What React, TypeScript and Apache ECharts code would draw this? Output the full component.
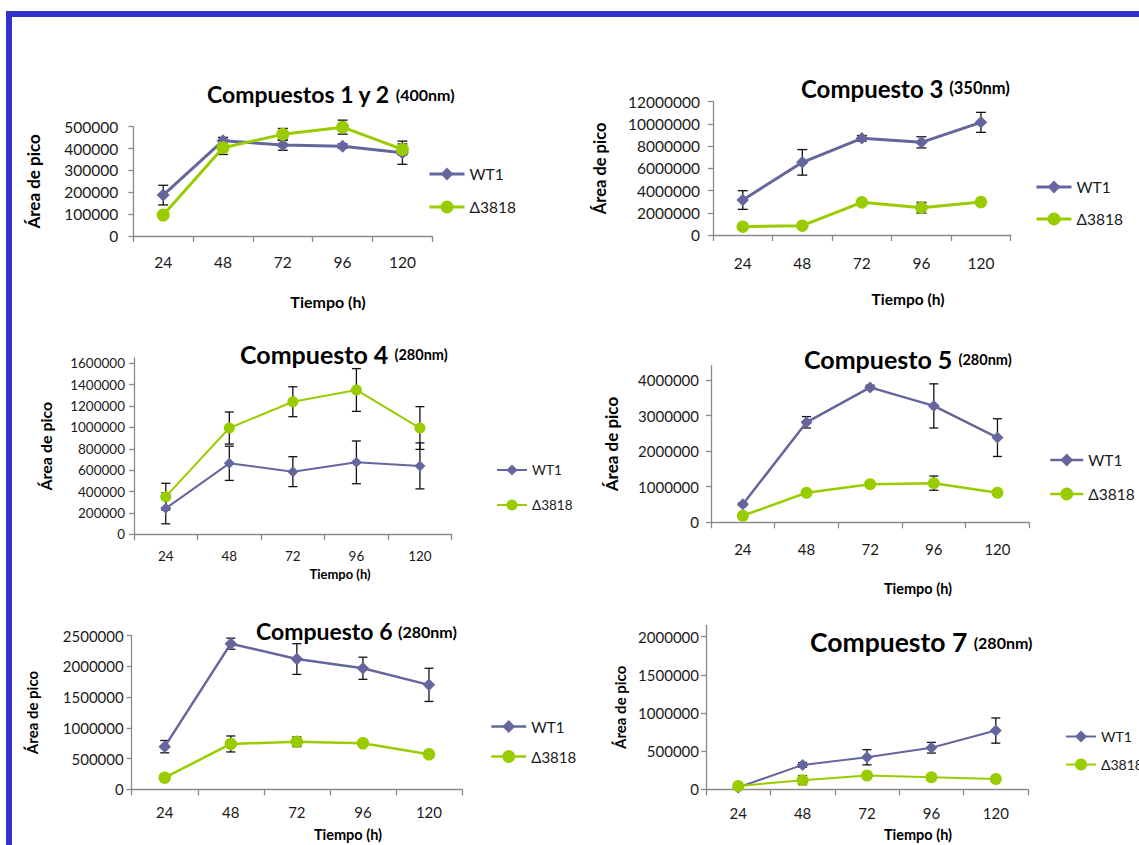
import React, { useEffect, useRef } from 'react';
import * as echarts from 'echarts';

// Sampling times (hours)
const HOURS = ['24', '48', '72', '96', '120'];
const WT_NAME = 'WT1';
const DEL_NAME = 'Δ3818';
const WT_COLOR = '#66669e';
const DEL_COLOR = '#99cc00';
const FONT = 'Lato, "Noto Sans", sans-serif';

// Compuestos 1 y 2 (400 nm)
const c12Wt = [187000, 436000, 416000, 411000, 381000];
const c12WtSd = [45000, 15000, 24000, 10000, 53000];
const c12Del = [96000, 404000, 465000, 498000, 396000];
const c12DelSd = [8000, 31000, 27000, 32000, 25000];
const c12Ticks = [0, 100000, 200000, 300000, 400000, 500000];

// Compuesto 3 (350 nm)
const c3Wt = [3150000, 6540000, 8700000, 8340000, 10140000];
const c3WtSd = [840000, 1150000, 250000, 500000, 900000];
const c3Del = [750000, 840000, 2940000, 2460000, 2970000];
const c3DelSd = [120000, 100000, 150000, 480000, 150000];
const c3Ticks = [0, 2000000, 4000000, 6000000, 8000000, 10000000, 12000000];

// Compuesto 4 (280 nm)
const c4Wt = [243000, 664000, 586000, 673000, 640000];
const c4WtSd = [145000, 160000, 140000, 200000, 215000];
const c4Del = [352000, 994000, 1240000, 1350000, 994000];
const c4DelSd = [125000, 150000, 140000, 200000, 200000];
const c4Ticks = [0, 200000, 400000, 600000, 800000, 1000000, 1200000, 1400000, 1600000];

// Compuesto 5 (280 nm)
const c5Wt = [505000, 2810000, 3790000, 3270000, 2380000];
const c5WtSd = [40000, 160000, 60000, 620000, 530000];
const c5Del = [186000, 830000, 1070000, 1100000, 830000];
const c5DelSd = [20000, 40000, 60000, 200000, 40000];
const c5Ticks = [0, 1000000, 2000000, 3000000, 4000000];

// Compuesto 6 (280 nm)
const c6Wt = [694000, 2370000, 2120000, 1970000, 1700000];
const c6WtSd = [100000, 90000, 250000, 180000, 270000];
const c6Del = [190000, 738000, 775000, 750000, 570000];
const c6DelSd = [20000, 130000, 80000, 30000, 30000];
const c6Ticks = [0, 500000, 1000000, 1500000, 2000000, 2500000];

// Compuesto 7 (280 nm)
const c7Wt = [25000, 320000, 420000, 545000, 770000];
const c7WtSd = [10000, 30000, 100000, 70000, 165000];
const c7Del = [43000, 120000, 180000, 157000, 135000];
const c7DelSd = [5000, 60000, 20000, 40000, 10000];
const c7Ticks = [0, 500000, 1000000, 1500000, 2000000];

type Panel = {
  title: string; nm: string;
  wt: number[]; wtSd: number[]; del: number[]; delSd: number[];
  ticks: number[]; yMax: number;
  grid: [number, number, number, number];
  titleLeft: number; titleCy: number; titleSize: number; nmSize: number;
  numSize: number; yLabelMargin: number; xLabelCy: number;
  xNameCx: number; xNameCy: number; xNameSize: number;
  yNameCx: number; yNameSize: number;
  legendLeft: number; legendTop: number; legendW: number; legendH: number; legendGap: number; legendSize: number;
  lineWidth: number; symbolSize: number; capW: number;
};

const panels: Panel[] = [
  {
    title: 'Compuestos 1 y 2', nm: '(400nm)', wt: c12Wt, wtSd: c12WtSd, del: c12Del, delSd: c12DelSd,
    ticks: c12Ticks, yMax: 500000, grid: [133.3, 126.7, 299, 109.3],
    titleLeft: 207, titleCy: 94, titleSize: 23, nmSize: 16,
    numSize: 15.5, yLabelMargin: 15, xLabelCy: 262,
    xNameCx: 328, xNameCy: 301, xNameSize: 16, yNameCx: 33, yNameSize: 17,
    legendLeft: 428, legendTop: 166, legendW: 35, legendH: 16, legendGap: 17, legendSize: 15.5,
    lineWidth: 3, symbolSize: 13, capW: 10,
  },
  {
    title: 'Compuesto 3', nm: '(350nm)', wt: c3Wt, wtSd: c3WtSd, del: c3Del, delSd: c3DelSd,
    ticks: c3Ticks, yMax: 12000000, grid: [713, 101.7, 297.7, 133.3],
    titleLeft: 801, titleCy: 88, titleSize: 24, nmSize: 16.5,
    numSize: 15.5, yLabelMargin: 13, xLabelCy: 263,
    xNameCx: 908, xNameCy: 299, xNameSize: 15.5, yNameCx: 600, yNameSize: 16.5,
    legendLeft: 1035, legendTop: 179, legendW: 35, legendH: 16, legendGap: 16, legendSize: 15.5,
    lineWidth: 3, symbolSize: 12.5, capW: 10,
  },
  {
    title: 'Compuesto 4', nm: '(280nm)', wt: c4Wt, wtSd: c4WtSd, del: c4Del, delSd: c4DelSd,
    ticks: c4Ticks, yMax: 1650000, grid: [134, 357.9, 317.7, 176.4],
    titleLeft: 240, titleCy: 354, titleSize: 25, nmSize: 14.5,
    numSize: 13.5, yLabelMargin: 9, xLabelCy: 556,
    xNameCx: 340, xNameCy: 574, xNameSize: 13, yNameCx: 45, yNameSize: 16,
    legendLeft: 496, legendTop: 463, legendW: 30, legendH: 14, legendGap: 21, legendSize: 13.5,
    lineWidth: 2, symbolSize: 11, capW: 9,
  },
  {
    title: 'Compuesto 5', nm: '(280nm)', wt: c5Wt, wtSd: c5WtSd, del: c5Del, delSd: c5DelSd,
    ticks: c5Ticks, yMax: 4400000, grid: [711, 365.7, 318.3, 156.6],
    titleLeft: 804, titleCy: 359, titleSize: 25, nmSize: 14.5,
    numSize: 15, yLabelMargin: 12, xLabelCy: 549,
    xNameCx: 918, xNameCy: 588, xNameSize: 14.5, yNameCx: 611, yNameSize: 17,
    legendLeft: 1049, legendTop: 452, legendW: 33, legendH: 16, legendGap: 18, legendSize: 15.5,
    lineWidth: 2.5, symbolSize: 12, capW: 9,
  },
  {
    title: 'Compuesto 6', nm: '(280nm)', wt: c6Wt, wtSd: c6WtSd, del: c6Del, delSd: c6DelSd,
    ticks: c6Ticks, yMax: 2500000, grid: [131.7, 635.7, 330.3, 153.6],
    titleLeft: 256, titleCy: 631, titleSize: 23, nmSize: 16,
    numSize: 15, yLabelMargin: 8, xLabelCy: 812,
    xNameCx: 348, xNameCy: 834, xNameSize: 14.5, yNameCx: 32, yNameSize: 15,
    legendLeft: 490, legendTop: 719, legendW: 35, legendH: 16, legendGap: 15, legendSize: 15,
    lineWidth: 2.5, symbolSize: 12.5, capW: 9,
  },
  {
    title: 'Compuesto 7', nm: '(280nm)', wt: c7Wt, wtSd: c7WtSd, del: c7Del, delSd: c7DelSd,
    ticks: c7Ticks, yMax: 2150000, grid: [706, 625.3, 322, 164],
    titleLeft: 810, titleCy: 642, titleSize: 26.5, nmSize: 16,
    numSize: 15, yLabelMargin: 7, xLabelCy: 813,
    xNameCx: 918, xNameCy: 834, xNameSize: 14.5, yNameCx: 620, yNameSize: 15,
    legendLeft: 1065, legendTop: 729.5, legendW: 30, legendH: 15, legendGap: 14, legendSize: 14,
    lineWidth: 2, symbolSize: 12, capW: 9,
  },
];

const AXIS_COLOR = '#8a8a8a';
const TEXT_COLOR = '#1a1a1a';

function errorBarSeries(idx: number, values: number[], sds: number[], capW: number) {
  return {
    type: 'custom',
    xAxisIndex: idx,
    yAxisIndex: idx,
    z: 2,
    silent: true,
    encode: { x: 0, y: [1, 2] },
    data: values.map((v, i) => [i, v - sds[i], v + sds[i]]),
    renderItem: (params: any, api: any) => {
      const x = api.value(0);
      const lo = api.coord([x, api.value(1)]);
      const hi = api.coord([x, api.value(2)]);
      const h = capW / 2;
      const style = { stroke: '#111', lineWidth: 1.3 };
      return {
        type: 'group',
        children: [
          { type: 'line', shape: { x1: lo[0], y1: lo[1], x2: hi[0], y2: hi[1] }, style },
          { type: 'line', shape: { x1: lo[0] - h, y1: lo[1], x2: lo[0] + h, y2: lo[1] }, style },
          { type: 'line', shape: { x1: hi[0] - h, y1: hi[1], x2: hi[0] + h, y2: hi[1] }, style },
        ],
      };
    },
  };
}

function buildOption() {
  const grid: any[] = [];
  const xAxis: any[] = [];
  const yAxis: any[] = [];
  const series: any[] = [];
  const title: any[] = [];
  const legend: any[] = [];

  panels.forEach((p, i) => {
    const [left, top, width, height] = p.grid;
    const bottom = top + height;
    grid.push({ left, top, width, height, containLabel: false, outerBoundsMode: 'none' });

    const nameOffset = p.xNameCx - (left + width / 2);
    xAxis.push({
      type: 'category',
      gridIndex: i,
      data: HOURS,
      boundaryGap: true,
      axisLine: { show: true, lineStyle: { color: AXIS_COLOR, width: 1.3 } },
      axisTick: { show: true, interval: 0, length: 6, lineStyle: { color: AXIS_COLOR, width: 1.3 } },
      axisLabel: {
        interval: 0,
        fontSize: p.numSize,
        fontFamily: FONT,
        color: TEXT_COLOR,
        margin: p.xLabelCy - bottom - p.numSize / 2,
      },
      splitLine: { show: false },
      name: 'Tiempo (h)',
      nameLocation: 'middle',
      nameGap: p.xNameCy - bottom - p.xNameSize / 2,
      nameTextStyle: {
        fontSize: p.xNameSize,
        fontWeight: 'bold',
        fontFamily: FONT,
        color: '#000',
        padding: [0, 0, 0, nameOffset * 2],
      },
    });

    yAxis.push({
      type: 'value',
      gridIndex: i,
      min: 0,
      max: p.yMax,
      axisLine: { show: true, lineStyle: { color: AXIS_COLOR, width: 1.3 } },
      axisTick: { show: true, length: 5, customValues: p.ticks, lineStyle: { color: AXIS_COLOR, width: 1.3 } },
      axisLabel: {
        customValues: p.ticks,
        formatter: (v: number) => String(v),
        fontSize: p.numSize,
        fontFamily: FONT,
        color: TEXT_COLOR,
        margin: p.yLabelMargin,
      },
      splitLine: { show: false },
      name: 'Área de pico',
      nameLocation: 'middle',
      nameRotate: 90,
      nameGap: left - p.yNameCx - p.yNameSize / 2,
      nameTextStyle: { fontSize: p.yNameSize, fontWeight: 'bold', fontFamily: FONT, color: '#000' },
    });

    series.push(errorBarSeries(i, p.wt, p.wtSd, p.capW));
    series.push(errorBarSeries(i, p.del, p.delSd, p.capW));
    series.push({
      type: 'line',
      name: WT_NAME,
      xAxisIndex: i,
      yAxisIndex: i,
      z: 3,
      data: p.wt,
      symbol: 'diamond',
      symbolSize: p.symbolSize,
      lineStyle: { color: WT_COLOR, width: p.lineWidth },
      itemStyle: { color: WT_COLOR },
      emphasis: { disabled: true },
    });
    series.push({
      type: 'line',
      name: DEL_NAME,
      xAxisIndex: i,
      yAxisIndex: i,
      z: 4,
      data: p.del,
      symbol: 'circle',
      symbolSize: p.symbolSize,
      lineStyle: { color: DEL_COLOR, width: p.lineWidth },
      itemStyle: { color: DEL_COLOR },
      emphasis: { disabled: true },
    });

    const lh = p.titleSize + 4;
    title.push({
      left: p.titleLeft,
      top: p.titleCy - lh / 2,
      padding: 0,
      text: `{m|${p.title} }{s|${p.nm}}`,
      textStyle: {
        rich: {
          m: { fontSize: p.titleSize, fontWeight: 'bold', fontFamily: FONT, color: '#000', lineHeight: lh },
          s: { fontSize: p.nmSize, fontWeight: 'bold', fontFamily: FONT, color: '#000', lineHeight: lh },
        },
      },
    });

    legend.push({
      data: [WT_NAME, DEL_NAME],
      orient: 'vertical',
      left: p.legendLeft,
      top: p.legendTop,
      padding: 0,
      itemWidth: p.legendW,
      itemHeight: p.legendH,
      itemGap: p.legendGap,
      selectedMode: false,
      lineStyle: { width: p.lineWidth },
      textStyle: { fontSize: p.legendSize, fontFamily: FONT, color: TEXT_COLOR },
    });
  });

  return {
    animation: false,
    backgroundColor: '#ffffff',
    textStyle: { fontFamily: FONT },
    title,
    legend,
    grid,
    xAxis,
    yAxis,
    series,
    graphic: [
      { type: 'rect', shape: { x: 6, y: 11, width: 1133, height: 6 }, style: { fill: '#3333cc' } },
      { type: 'rect', shape: { x: 6, y: 11, width: 6, height: 834 }, style: { fill: '#3333cc' } },
    ],
  };
}

export default function App() {
  const ref = useRef<HTMLDivElement>(null);
  useEffect(() => {
    if (!ref.current) return;
    const chart = echarts.init(ref.current, null, { renderer: 'svg' });
    chart.setOption(buildOption() as any);
    return () => chart.dispose();
  }, []);
  return (
    <div
      ref={ref}
      style={{ position: 'fixed', left: 0, top: 0, width: 1139, height: 845, background: '#ffffff' }}
    />
  );
}
